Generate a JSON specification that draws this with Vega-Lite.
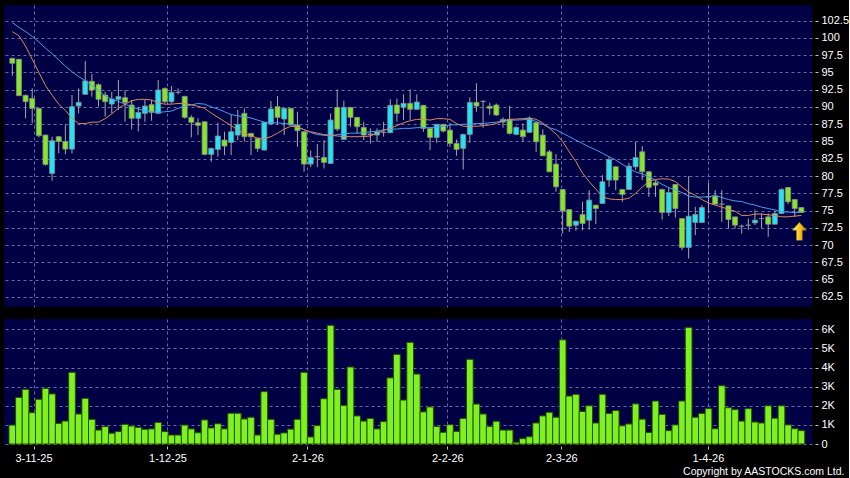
{
  "$schema": "https://vega.github.io/schema/vega-lite/v6.json",
  "background": "#000000",
  "padding": {"left": 4, "top": 5, "right": 0, "bottom": 0},
  "autosize": {"type": "pad"},
  "config": {
    "view": {"fill": "#000044", "stroke": null},
    "axis": {"labelColor": "#ffffff", "labelFont": "Liberation Sans", "labelFontSize": 11, "tickColor": "#c0c0c0", "gridColor": "#6a6aa8", "gridDash": [3, 3], "gridWidth": 1, "gridOpacity": 1, "domain": false},
    "concat": {"spacing": 12}
  },
  "title": {"text": "Copyright by AASTOCKS.com Ltd.", "orient": "bottom", "anchor": "end", "frame": "bounds", "color": "#ffffff", "font": "Liberation Sans", "fontSize": 10.5, "fontWeight": "normal", "offset": 4, "dx": -4},
  "datasets": {
    "k": [
      {"i":0,"o":97.04,"h":97.1,"l":94.5,"c":96.32,"v":0.99,"m1":102.2,"m2":100.9},
      {"i":1,"o":96.9,"h":96.95,"l":91.6,"c":91.63,"v":2.44,"m1":101.5,"m2":100.3},
      {"i":2,"o":91.68,"h":91.8,"l":88.35,"c":90.76,"v":2.86,"m1":100.9,"m2":98.8},
      {"i":3,"o":91.24,"h":92.69,"l":87.62,"c":89.79,"v":1.64,"m1":100.2,"m2":96.9},
      {"i":4,"o":89.79,"h":89.9,"l":85.6,"c":85.83,"v":2.34,"m1":99.4,"m2":95.0},
      {"i":5,"o":85.93,"h":86.0,"l":81.5,"c":81.68,"v":2.91,"m1":98.5,"m2":93.1},
      {"i":6,"o":80.37,"h":85.7,"l":79.31,"c":85.11,"v":2.62,"m1":97.7,"m2":91.7},
      {"i":7,"o":85.69,"h":85.8,"l":83.27,"c":85.01,"v":1.08,"m1":96.8,"m2":90.4},
      {"i":8,"o":85.0,"h":87.48,"l":83.18,"c":83.9,"v":1.2,"m1":95.9,"m2":89.5},
      {"i":9,"o":83.9,"h":91.73,"l":83.27,"c":90.04,"v":3.75,"m1":95.1,"m2":88.35},
      {"i":10,"o":90.13,"h":92.69,"l":89.07,"c":90.66,"v":1.57,"m1":94.4,"m2":87.6},
      {"i":11,"o":91.82,"h":96.65,"l":91.8,"c":93.76,"v":2.39,"m1":93.8,"m2":87.6},
      {"i":12,"o":93.71,"h":94.77,"l":91.49,"c":92.45,"v":1.29,"m1":93.1,"m2":87.8},
      {"i":13,"o":93.22,"h":93.4,"l":90.04,"c":91.1,"v":0.73,"m1":92.4,"m2":87.8},
      {"i":14,"o":91.73,"h":92.21,"l":88.59,"c":90.76,"v":0.91,"m1":91.6,"m2":88.3},
      {"i":15,"o":90.42,"h":92.2,"l":89.07,"c":91.15,"v":0.56,"m1":91.1,"m2":89.0},
      {"i":16,"o":91.1,"h":93.9,"l":89.55,"c":91.49,"v":0.65,"m1":90.8,"m2":89.8},
      {"i":17,"o":91.34,"h":92.45,"l":87.86,"c":90.66,"v":1.03,"m1":90.4,"m2":90.4},
      {"i":18,"o":90.28,"h":91.0,"l":86.75,"c":88.35,"v":0.94,"m1":90.0,"m2":90.9},
      {"i":19,"o":88.35,"h":90.04,"l":86.46,"c":89.21,"v":0.87,"m1":89.7,"m2":91.1},
      {"i":20,"o":89.07,"h":91.0,"l":87.86,"c":90.13,"v":0.77,"m1":89.4,"m2":91.1},
      {"i":21,"o":90.33,"h":91.0,"l":88.0,"c":89.21,"v":0.79,"m1":89.3,"m2":91.0},
      {"i":22,"o":89.07,"h":93.9,"l":89.0,"c":92.45,"v":1.13,"m1":89.2,"m2":90.6},
      {"i":23,"o":92.69,"h":92.8,"l":90.5,"c":90.76,"v":0.65,"m1":89.3,"m2":90.4},
      {"i":24,"o":90.76,"h":93.03,"l":90.5,"c":92.11,"v":0.47,"m1":89.4,"m2":90.4},
      {"i":25,"o":92.11,"h":92.7,"l":91.8,"c":92.11,"v":0.47,"m1":89.8,"m2":90.5},
      {"i":26,"o":91.53,"h":91.6,"l":88.3,"c":88.49,"v":0.99,"m1":90.1,"m2":90.5},
      {"i":27,"o":88.49,"h":88.8,"l":85.59,"c":87.77,"v":0.79,"m1":90.3,"m2":90.3},
      {"i":28,"o":87.7,"h":88.35,"l":85.93,"c":87.33,"v":0.59,"m1":90.5,"m2":90.1},
      {"i":29,"o":87.86,"h":87.9,"l":83.0,"c":83.13,"v":1.26,"m1":90.4,"m2":89.8},
      {"i":30,"o":83.13,"h":84.1,"l":82.07,"c":84.0,"v":0.84,"m1":90.0,"m2":89.1},
      {"i":31,"o":83.85,"h":87.72,"l":82.79,"c":85.79,"v":1.06,"m1":89.7,"m2":88.5},
      {"i":32,"o":85.21,"h":86.41,"l":83.03,"c":84.34,"v":0.79,"m1":89.3,"m2":87.9},
      {"i":33,"o":84.87,"h":88.83,"l":83.03,"c":86.41,"v":1.61,"m1":88.9,"m2":87.3},
      {"i":34,"o":85.93,"h":89.55,"l":85.2,"c":87.48,"v":1.61,"m1":88.7,"m2":86.7},
      {"i":35,"o":89.07,"h":89.8,"l":85.0,"c":85.69,"v":1.31,"m1":88.6,"m2":86.1},
      {"i":36,"o":86.17,"h":86.2,"l":83.03,"c":85.69,"v":1.4,"m1":88.4,"m2":85.8},
      {"i":37,"o":85.45,"h":85.5,"l":83.5,"c":84.0,"v":0.47,"m1":88.1,"m2":85.5},
      {"i":38,"o":83.76,"h":87.8,"l":83.7,"c":87.77,"v":2.74,"m1":87.8,"m2":85.4},
      {"i":39,"o":87.52,"h":90.86,"l":87.5,"c":89.7,"v":1.29,"m1":87.7,"m2":85.7},
      {"i":40,"o":90.04,"h":91.58,"l":87.4,"c":88.49,"v":0.51,"m1":87.7,"m2":86.2},
      {"i":41,"o":88.25,"h":89.9,"l":85.93,"c":89.79,"v":0.58,"m1":87.6,"m2":86.8},
      {"i":42,"o":89.79,"h":89.8,"l":87.3,"c":87.38,"v":0.78,"m1":87.5,"m2":87.2},
      {"i":43,"o":87.38,"h":89.31,"l":84.24,"c":86.56,"v":1.29,"m1":87.1,"m2":87.1},
      {"i":44,"o":86.41,"h":86.5,"l":80.62,"c":81.73,"v":3.75,"m1":86.7,"m2":86.7},
      {"i":45,"o":81.73,"h":83.7,"l":81.3,"c":82.69,"v":0.37,"m1":86.3,"m2":86.4},
      {"i":46,"o":82.8,"h":84.63,"l":81.3,"c":82.8,"v":0.96,"m1":86.0,"m2":86.2},
      {"i":47,"o":82.69,"h":85.21,"l":81.1,"c":81.97,"v":2.37,"m1":85.9,"m2":86.0},
      {"i":48,"o":81.82,"h":89.07,"l":81.8,"c":88.1,"v":6.21,"m1":85.8,"m2":85.9},
      {"i":49,"o":89.94,"h":92.55,"l":86.5,"c":86.8,"v":2.86,"m1":86.0,"m2":85.8},
      {"i":50,"o":85.3,"h":90.91,"l":85.3,"c":89.94,"v":2.02,"m1":86.1,"m2":85.7},
      {"i":51,"o":89.94,"h":90.0,"l":87.14,"c":88.49,"v":4.03,"m1":86.2,"m2":85.7},
      {"i":52,"o":88.49,"h":88.5,"l":86.17,"c":87.14,"v":1.47,"m1":86.2,"m2":85.7},
      {"i":53,"o":87.04,"h":87.86,"l":85.21,"c":85.93,"v":1.2,"m1":86.3,"m2":85.7},
      {"i":54,"o":86.0,"h":86.9,"l":84.7,"c":86.1,"v":1.34,"m1":86.4,"m2":85.8},
      {"i":55,"o":85.93,"h":86.9,"l":84.97,"c":86.41,"v":0.79,"m1":86.5,"m2":86.2},
      {"i":56,"o":86.3,"h":87.86,"l":85.7,"c":86.35,"v":1.17,"m1":86.7,"m2":86.6},
      {"i":57,"o":86.27,"h":91.1,"l":86.2,"c":90.23,"v":3.46,"m1":86.8,"m2":86.9},
      {"i":58,"o":90.28,"h":91.2,"l":87.86,"c":89.07,"v":4.69,"m1":86.8,"m2":87.3},
      {"i":59,"o":89.94,"h":91.82,"l":88.1,"c":90.52,"v":2.3,"m1":86.9,"m2":87.7},
      {"i":60,"o":90.52,"h":92.55,"l":88.1,"c":89.65,"v":5.32,"m1":86.9,"m2":88.0},
      {"i":61,"o":89.65,"h":91.82,"l":89.6,"c":90.71,"v":3.66,"m1":87.0,"m2":88.2},
      {"i":62,"o":90.23,"h":90.3,"l":86.4,"c":86.9,"v":1.68,"m1":87.0,"m2":88.2},
      {"i":63,"o":86.9,"h":86.95,"l":83.76,"c":85.59,"v":1.94,"m1":87.0,"m2":88.1},
      {"i":64,"o":85.59,"h":87.5,"l":84.8,"c":87.48,"v":0.92,"m1":87.1,"m2":88.3},
      {"i":65,"o":87.48,"h":87.5,"l":86.3,"c":86.51,"v":0.61,"m1":87.2,"m2":88.3},
      {"i":66,"o":86.65,"h":87.7,"l":84.2,"c":84.72,"v":1.01,"m1":87.4,"m2":88.2},
      {"i":67,"o":84.72,"h":85.3,"l":82.93,"c":83.85,"v":0.66,"m1":87.4,"m2":87.6},
      {"i":68,"o":84.0,"h":86.1,"l":80.95,"c":86.03,"v":1.34,"m1":87.5,"m2":87.2},
      {"i":69,"o":86.03,"h":91.39,"l":84.8,"c":90.66,"v":4.43,"m1":87.5,"m2":87.2},
      {"i":70,"o":90.66,"h":93.42,"l":89.3,"c":90.13,"v":2.09,"m1":87.6,"m2":87.2},
      {"i":71,"o":90.8,"h":91.0,"l":86.99,"c":90.8,"v":1.57,"m1":87.6,"m2":87.3},
      {"i":72,"o":90.1,"h":90.6,"l":88.86,"c":89.8,"v":0.92,"m1":87.7,"m2":87.4},
      {"i":73,"o":90.28,"h":90.5,"l":88.7,"c":88.83,"v":1.19,"m1":87.8,"m2":87.6},
      {"i":74,"o":87.81,"h":88.5,"l":87.0,"c":88.2,"v":0.73,"m1":88.0,"m2":88.0},
      {"i":75,"o":88.2,"h":90.13,"l":86.0,"c":86.17,"v":0.73,"m1":88.1,"m2":88.2},
      {"i":76,"o":86.03,"h":87.2,"l":85.9,"c":87.04,"v":0.09,"m1":88.1,"m2":88.25},
      {"i":77,"o":86.65,"h":87.6,"l":84.96,"c":85.69,"v":0.28,"m1":88.15,"m2":88.3},
      {"i":78,"o":86.32,"h":88.6,"l":86.3,"c":88.35,"v":0.38,"m1":88.2,"m2":88.4},
      {"i":79,"o":87.72,"h":87.8,"l":83.51,"c":84.96,"v":1.1,"m1":87.9,"m2":88.2},
      {"i":80,"o":85.93,"h":86.75,"l":82.9,"c":82.93,"v":1.47,"m1":87.5,"m2":87.7},
      {"i":81,"o":83.51,"h":83.76,"l":80.6,"c":80.62,"v":1.66,"m1":87.0,"m2":86.9},
      {"i":82,"o":81.73,"h":83.18,"l":77.72,"c":78.44,"v":1.4,"m1":86.7,"m2":86.1},
      {"i":83,"o":78.06,"h":78.1,"l":71.68,"c":74.96,"v":5.45,"m1":86.2,"m2":85.0},
      {"i":84,"o":75.16,"h":75.2,"l":71.92,"c":72.74,"v":2.51,"m1":85.7,"m2":83.5},
      {"i":85,"o":72.89,"h":73.5,"l":72.07,"c":73.47,"v":2.6,"m1":85.2,"m2":82.1},
      {"i":86,"o":74.43,"h":76.27,"l":72.16,"c":73.13,"v":1.7,"m1":84.7,"m2":80.4},
      {"i":87,"o":73.61,"h":77.96,"l":72.26,"c":76.51,"v":2.0,"m1":84.2,"m2":79.2},
      {"i":88,"o":75.79,"h":75.8,"l":73.03,"c":75.3,"v":1.1,"m1":83.8,"m2":78.1},
      {"i":89,"o":76.03,"h":80.13,"l":76.0,"c":79.17,"v":2.6,"m1":83.3,"m2":77.0},
      {"i":90,"o":79.41,"h":82.79,"l":78.44,"c":82.4,"v":1.6,"m1":82.8,"m2":76.7},
      {"i":91,"o":81.34,"h":81.4,"l":77.96,"c":79.41,"v":1.75,"m1":82.3,"m2":76.6},
      {"i":92,"o":78.06,"h":78.1,"l":76.27,"c":77.33,"v":0.95,"m1":81.7,"m2":76.6},
      {"i":93,"o":78.06,"h":81.92,"l":78.0,"c":81.44,"v":1.05,"m1":81.1,"m2":76.8},
      {"i":94,"o":81.34,"h":84.96,"l":80.86,"c":82.69,"v":2.1,"m1":80.6,"m2":77.5},
      {"i":95,"o":83.51,"h":84.34,"l":79.41,"c":80.62,"v":1.3,"m1":80.3,"m2":78.4},
      {"i":96,"o":80.62,"h":80.7,"l":76.99,"c":78.35,"v":0.6,"m1":79.9,"m2":79.2},
      {"i":97,"o":79.02,"h":79.4,"l":76.99,"c":78.68,"v":2.25,"m1":79.4,"m2":79.5},
      {"i":98,"o":78.06,"h":78.2,"l":73.71,"c":74.72,"v":1.55,"m1":78.8,"m2":79.6},
      {"i":99,"o":74.72,"h":78.44,"l":74.19,"c":77.62,"v":0.7,"m1":78.3,"m2":79.55},
      {"i":100,"o":78.78,"h":78.8,"l":74.0,"c":75.3,"v":1.0,"m1":78.0,"m2":79.2},
      {"i":101,"o":73.85,"h":73.9,"l":69.26,"c":69.65,"v":2.25,"m1":77.6,"m2":78.4},
      {"i":102,"o":69.65,"h":79.99,"l":68.06,"c":74.19,"v":6.1,"m1":77.1,"m2":77.7},
      {"i":103,"o":73.27,"h":75.54,"l":71.44,"c":74.43,"v":1.4,"m1":76.95,"m2":77.2},
      {"i":104,"o":73.27,"h":75.8,"l":73.2,"c":75.45,"v":1.6,"m1":76.95,"m2":76.6},
      {"i":105,"o":76.99,"h":79.02,"l":74.58,"c":76.99,"v":1.85,"m1":77.0,"m2":76.1},
      {"i":106,"o":77.09,"h":77.96,"l":75.9,"c":75.93,"v":0.8,"m1":77.2,"m2":75.8},
      {"i":107,"o":75.93,"h":77.96,"l":73.37,"c":75.93,"v":3.05,"m1":76.9,"m2":75.5},
      {"i":108,"o":75.69,"h":75.7,"l":72.4,"c":73.71,"v":1.9,"m1":76.6,"m2":75.2},
      {"i":109,"o":74.09,"h":74.1,"l":72.4,"c":72.89,"v":1.8,"m1":76.4,"m2":74.9},
      {"i":110,"o":72.74,"h":73.0,"l":71.68,"c":72.74,"v":1.2,"m1":76.3,"m2":74.3},
      {"i":111,"o":72.89,"h":73.85,"l":72.2,"c":72.89,"v":1.85,"m1":76.0,"m2":74.3},
      {"i":112,"o":73.22,"h":75.16,"l":72.9,"c":73.61,"v":1.15,"m1":75.8,"m2":74.5},
      {"i":113,"o":73.85,"h":74.6,"l":72.4,"c":73.85,"v":1.1,"m1":75.5,"m2":74.5},
      {"i":114,"o":74.09,"h":74.6,"l":71.2,"c":73.03,"v":2.0,"m1":75.3,"m2":74.4},
      {"i":115,"o":73.03,"h":74.97,"l":73.0,"c":74.58,"v":1.35,"m1":75.1,"m2":74.3},
      {"i":116,"o":74.58,"h":78.2,"l":74.5,"c":78.06,"v":2.0,"m1":74.8,"m2":74.1},
      {"i":117,"o":78.35,"h":78.4,"l":75.93,"c":76.27,"v":1.0,"m1":74.8,"m2":74.1},
      {"i":118,"o":76.61,"h":76.65,"l":74.09,"c":75.3,"v":0.8,"m1":74.7,"m2":74.2},
      {"i":119,"o":75.45,"h":75.5,"l":74.7,"c":74.72,"v":0.7,"m1":74.8,"m2":74.3}
    ],
    "marker": [{"i": 118.7, "p": 72.0}]
  },
  "vconcat": [
    {
      "width": 808,
      "height": 302,
      "data": {"name": "k"},
      "resolve": {"axis": {"x": "independent", "y": "independent"}},
      "encoding": {
        "x": {"field": "i", "type": "quantitative", "title": null,
          "scale": {"domain": [-0.5, 119.85], "nice": false, "zero": false},
          "axis": null}
      },
      "layer": [
        {
          "mark": {"type": "rule", "color": "#a8a8a8", "strokeWidth": 1},
          "encoding": {
            "x": {"field": "i", "type": "quantitative", "title": null,
              "scale": {"domain": [-0.5, 119.85], "nice": false, "zero": false},
              "axis": {"values": [3.2, 23.4, 44.5, 65.6, 82.8, 104.9], "tickCount": 20, "labels": false, "ticks": false, "grid": true, "gridDash": [3, 3], "gridColor": "#6a6aa8", "domain": false}},
            "y": {"field": "l", "type": "quantitative", "title": null,
              "scale": {"domain": [61.05, 104.75], "nice": false, "zero": false},
              "axis": {"orient": "right", "values": [62.5, 65, 67.5, 70, 72.5, 75, 77.5, 80, 82.5, 85, 87.5, 90, 92.5, 95, 97.5, 100, 102.5], "tickCount": 40, "labelExpr": "'' + datum.value", "offset": 3, "tickSize": 3, "labelPadding": 3, "grid": true, "gridDash": [3, 3], "gridColor": "#6a6aa8", "labelOverlap": false}},
            "y2": {"field": "h"}
          }
        },
        {
          "mark": {"type": "bar", "width": 5, "stroke": "#8a8a8a", "strokeWidth": 0.8},
          "encoding": {
            "y": {"field": "o", "type": "quantitative", "title": null, "axis": null},
            "y2": {"field": "c"},
            "fill": {"condition": {"test": "datum.c > datum.o", "value": "#22e4f4"}, "value": "#84e82a"}
          }
        },
        {
          "mark": {"type": "line", "color": "#45a0ee", "strokeWidth": 1},
          "encoding": {"y": {"field": "m1", "type": "quantitative", "title": null, "axis": null}}
        },
        {
          "mark": {"type": "line", "color": "#e0875a", "strokeWidth": 1},
          "encoding": {"y": {"field": "m2", "type": "quantitative", "title": null, "axis": null}}
        },
        {
          "data": {"name": "marker"},
          "mark": {"type": "point", "filled": true, "opacity": 1, "size": 324,
            "shape": "M0,-1 L0.78,-0.11 L0.33,-0.11 L0.33,1 L-0.33,1 L-0.33,-0.11 L-0.78,-0.11 Z",
            "fill": {"gradient": "linear", "x1": 0, "y1": 0, "x2": 1, "y2": 0, "stops": [{"offset": 0, "color": "#fff3a0"}, {"offset": 0.5, "color": "#f8c820"}, {"offset": 1, "color": "#c98a00"}]},
            "stroke": "#a06a00", "strokeWidth": 0.5},
          "encoding": {
            "y": {"field": "p", "type": "quantitative", "title": null, "axis": null}
          }
        }
      ]
    },
    {
      "width": 808,
      "height": 125,
      "data": {"name": "k"},
      "mark": {"type": "bar", "width": 6.72, "fill": "#80f020", "stroke": "#1e5200", "strokeWidth": 1},
      "encoding": {
        "x": {"field": "i", "type": "quantitative", "title": null,
          "scale": {"domain": [-0.5, 119.85], "nice": false, "zero": false},
          "axis": {"values": [3.2, 23.4, 44.5, 65.6, 82.8, 104.9], "tickCount": 20, "grid": true, "gridDash": [3, 3], "gridColor": "#6a6aa8", "domain": false, "offset": 2, "tickSize": 3, "labelPadding": 3, "labelFlush": false, "labelOverlap": false,
            "labelExpr": "datum.value < 10 ? '3-11-25' : datum.value < 30 ? '1-12-25' : datum.value < 50 ? '2-1-26' : datum.value < 70 ? '2-2-26' : datum.value < 90 ? '2-3-26' : '1-4-26'"}},
        "y": {"field": "v", "type": "quantitative", "title": null,
          "scale": {"domain": [0, 6.54], "nice": false, "zero": true},
          "axis": {"orient": "right", "values": [0, 1, 2, 3, 4, 5, 6], "tickCount": 20, "labelExpr": "datum.value == 0 ? '0' : datum.value + 'K'", "offset": 3, "tickSize": 3, "labelPadding": 3, "grid": true, "gridDash": [3, 3], "gridColor": "#6a6aa8", "labelOverlap": false}}
      }
    }
  ]
}
